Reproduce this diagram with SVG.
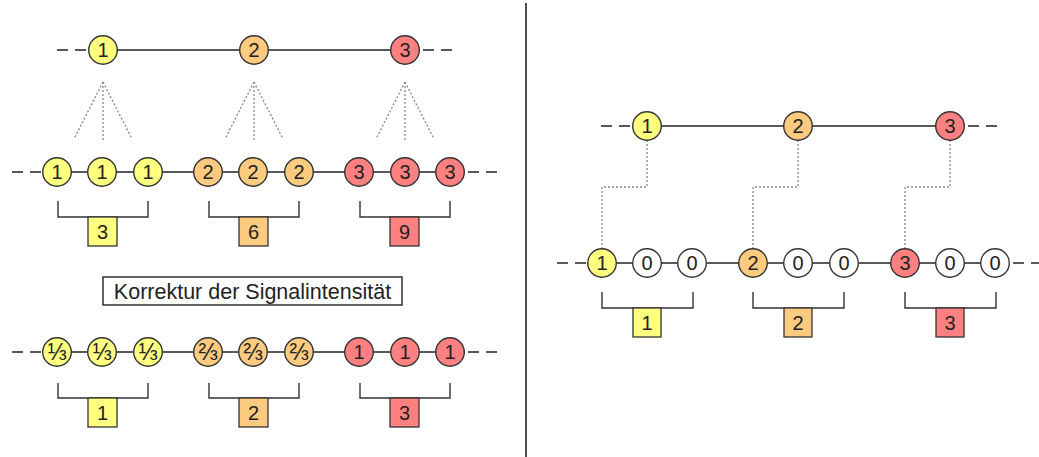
<svg xmlns="http://www.w3.org/2000/svg" width="1039" height="457" viewBox="0 0 1039 457">
<style>
.ln{stroke:#222;stroke-width:1.6;fill:none}
.dash{stroke:#222;stroke-width:1.6;fill:none;stroke-dasharray:11,7}
.dot{stroke:#888;stroke-width:1.3;fill:none;stroke-dasharray:2,2}
.c{stroke:#333;stroke-width:1.4}
.y{fill:#ffff80}.o{fill:#fccb7f}.r{fill:#ff8080}.w{fill:#fff}
.t{font-family:"Liberation Sans",Arial,sans-serif;font-size:20px;fill:#222;text-anchor:middle;dominant-baseline:central}
.f{font-size:23px}
.br{stroke:#333;stroke-width:1.4;fill:none}
.bx{stroke:#333;stroke-width:1.3}
</style>
<defs>
<circle id="cc" r="14.3" class="c"/>
</defs>
<line x1="526" y1="3" x2="526" y2="457" stroke="#222" stroke-width="1.6"/>
<g id="connectors">
<line class="dash" x1="57" y1="50" x2="89" y2="50"/>
<line class="ln" x1="103" y1="50" x2="405" y2="50"/>
<line class="dash" x1="419" y1="50" x2="452" y2="50" stroke-dashoffset="-4"/>
<path class="dot" d="M103 82L74 139M103 82V142M103 82L132 139"/>
<path class="dot" d="M254 82L225 139M254 82V142M254 82L283 139"/>
<path class="dot" d="M405 82L376 139M405 82V142M405 82L434 139"/>
<line class="dash" x1="12" y1="172" x2="43" y2="172"/>
<line class="ln" x1="57" y1="172" x2="450" y2="172"/>
<line class="dash" x1="464" y1="172" x2="497" y2="172" stroke-dashoffset="-4"/>
<line class="dash" x1="12" y1="352" x2="43" y2="352"/>
<line class="ln" x1="57" y1="352" x2="450" y2="352"/>
<line class="dash" x1="464" y1="352" x2="497" y2="352" stroke-dashoffset="-4"/>
<path class="br" d="M58 201V217H148V201M209 201V217H299V201M360 201V217H450V201"/>
<path class="br" d="M58 383V398H148V383M209 383V398H299V383M360 383V398H450V383"/>
<line class="dash" x1="601" y1="126" x2="633" y2="126"/>
<line class="ln" x1="647" y1="126" x2="950" y2="126"/>
<line class="dash" x1="964" y1="126" x2="997" y2="126" stroke-dashoffset="-4"/>
<line class="dash" x1="557" y1="263" x2="588" y2="263"/>
<line class="ln" x1="602" y1="263" x2="995" y2="263"/>
<line class="dash" x1="1009" y1="263" x2="1040" y2="263" stroke-dashoffset="-4"/>
<path class="dot" d="M647 140V187H602V249"/>
<path class="dot" d="M798 140V187H753V249"/>
<path class="dot" d="M950 140V187H905V249"/>
<path class="br" d="M602 292V308H693V292M753 292V308H844V292M905 292V308H996V292"/>
</g>
<g id="label-korrektur">
<rect x="103" y="277" width="299" height="28" fill="#fff" stroke="#222" stroke-width="1.4"/>
<text class="t" x="252.5" y="291.5" style="font-size:21.5px">Korrektur der Signalintensität</text>
</g>
<g id="left-top">
<g id="lt1"><use href="#cc" x="103" y="50" class="y"/><text class="t" x="103" y="50">1</text></g>
<g id="lt2"><use href="#cc" x="254" y="50" class="o"/><text class="t" x="254" y="50">2</text></g>
<g id="lt3"><use href="#cc" x="405" y="50" class="r"/><text class="t" x="405" y="50">3</text></g>
</g>
<g id="left-mid">
<g id="lm1"><use href="#cc" x="57" y="172" class="y"/><text class="t" x="57" y="172">1</text></g>
<g id="lm2"><use href="#cc" x="102" y="172" class="y"/><text class="t" x="102" y="172">1</text></g>
<g id="lm3"><use href="#cc" x="148" y="172" class="y"/><text class="t" x="148" y="172">1</text></g>
<g id="lm4"><use href="#cc" x="208" y="172" class="o"/><text class="t" x="208" y="172">2</text></g>
<g id="lm5"><use href="#cc" x="253" y="172" class="o"/><text class="t" x="253" y="172">2</text></g>
<g id="lm6"><use href="#cc" x="299" y="172" class="o"/><text class="t" x="299" y="172">2</text></g>
<g id="lm7"><use href="#cc" x="359" y="172" class="r"/><text class="t" x="359" y="172">3</text></g>
<g id="lm8"><use href="#cc" x="405" y="172" class="r"/><text class="t" x="405" y="172">3</text></g>
<g id="lm9"><use href="#cc" x="450" y="172" class="r"/><text class="t" x="450" y="172">3</text></g>
<g id="lmb1"><rect x="88" y="217" width="29" height="29" class="y bx"/><text class="t" x="102.5" y="231.5">3</text></g>
<g id="lmb2"><rect x="239" y="217" width="29" height="29" class="o bx"/><text class="t" x="253.5" y="231.5">6</text></g>
<g id="lmb3"><rect x="390" y="217" width="29" height="29" class="r bx"/><text class="t" x="404.5" y="231.5">9</text></g>
</g>
<g id="left-bot">
<g id="lb1"><use href="#cc" x="57" y="352" class="y"/><text class="t f" x="57" y="352">⅓</text></g>
<g id="lb2"><use href="#cc" x="102" y="352" class="y"/><text class="t f" x="102" y="352">⅓</text></g>
<g id="lb3"><use href="#cc" x="148" y="352" class="y"/><text class="t f" x="148" y="352">⅓</text></g>
<g id="lb4"><use href="#cc" x="208" y="352" class="o"/><text class="t f" x="208" y="352">⅔</text></g>
<g id="lb5"><use href="#cc" x="253" y="352" class="o"/><text class="t f" x="253" y="352">⅔</text></g>
<g id="lb6"><use href="#cc" x="299" y="352" class="o"/><text class="t f" x="299" y="352">⅔</text></g>
<g id="lb7"><use href="#cc" x="359" y="352" class="r"/><text class="t" x="359" y="352">1</text></g>
<g id="lb8"><use href="#cc" x="405" y="352" class="r"/><text class="t" x="405" y="352">1</text></g>
<g id="lb9"><use href="#cc" x="450" y="352" class="r"/><text class="t" x="450" y="352">1</text></g>
<g id="lbb1"><rect x="88" y="398" width="29" height="29" class="y bx"/><text class="t" x="102.5" y="412.5">1</text></g>
<g id="lbb2"><rect x="239" y="398" width="29" height="29" class="o bx"/><text class="t" x="253.5" y="412.5">2</text></g>
<g id="lbb3"><rect x="390" y="398" width="29" height="29" class="r bx"/><text class="t" x="404.5" y="412.5">3</text></g>
</g>
<g id="right-top">
<g id="rt1"><use href="#cc" x="647" y="126" class="y"/><text class="t" x="647" y="126">1</text></g>
<g id="rt2"><use href="#cc" x="798" y="126" class="o"/><text class="t" x="798" y="126">2</text></g>
<g id="rt3"><use href="#cc" x="950" y="126" class="r"/><text class="t" x="950" y="126">3</text></g>
</g>
<g id="right-bot">
<g id="rb1"><use href="#cc" x="602" y="263" class="y"/><text class="t" x="602" y="263">1</text></g>
<g id="rb2"><use href="#cc" x="647" y="263" class="w"/><text class="t" x="647" y="263">0</text></g>
<g id="rb3"><use href="#cc" x="692" y="263" class="w"/><text class="t" x="692" y="263">0</text></g>
<g id="rb4"><use href="#cc" x="753" y="263" class="o"/><text class="t" x="753" y="263">2</text></g>
<g id="rb5"><use href="#cc" x="798" y="263" class="w"/><text class="t" x="798" y="263">0</text></g>
<g id="rb6"><use href="#cc" x="844" y="263" class="w"/><text class="t" x="844" y="263">0</text></g>
<g id="rb7"><use href="#cc" x="905" y="263" class="r"/><text class="t" x="905" y="263">3</text></g>
<g id="rb8"><use href="#cc" x="950" y="263" class="w"/><text class="t" x="950" y="263">0</text></g>
<g id="rb9"><use href="#cc" x="995" y="263" class="w"/><text class="t" x="995" y="263">0</text></g>
<g id="rbb1"><rect x="633" y="308" width="28" height="29" class="y bx"/><text class="t" x="647" y="322.5">1</text></g>
<g id="rbb2"><rect x="784" y="308" width="28" height="29" class="o bx"/><text class="t" x="798" y="322.5">2</text></g>
<g id="rbb3"><rect x="936" y="308" width="28" height="29" class="r bx"/><text class="t" x="950" y="322.5">3</text></g>
</g>
</svg>
